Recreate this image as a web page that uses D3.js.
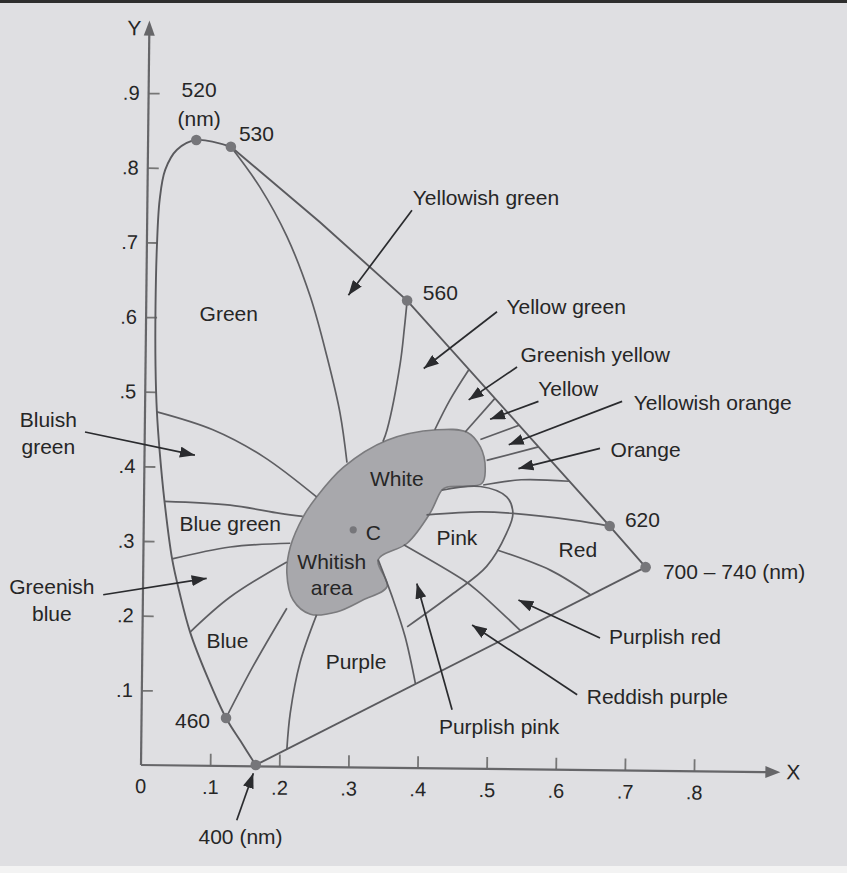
<!DOCTYPE html>
<html>
<head>
<meta charset="utf-8">
<script src="https://cdn.jsdelivr.net/npm/d3@7"></script>
<style>
  html, body { margin: 0; padding: 0; background: #dfdfe2; }
  svg { display: block; }
  text { font-family: "Liberation Sans", Arial, Helvetica, sans-serif; fill: #262626; }
</style>
</head>
<body>
<svg id="chart" width="847" height="873"></svg>
<script>
// chromaticity values (x, y)
var xTicks = [0.1, 0.2, 0.3, 0.4, 0.5, 0.6, 0.7, 0.8];
var yTicks = [0.1, 0.2, 0.3, 0.4, 0.5, 0.6, 0.7, 0.8, 0.9];

// spectral locus, 400 nm round the left side up to 530 nm
var locusCurve = [[0.166,0.000],[0.144,0.032],[0.123,0.063],[0.096,0.118],[0.071,0.178],
  [0.056,0.230],[0.045,0.276],[0.034,0.353],[0.027,0.420],[0.023,0.473],[0.021,0.534],
  [0.021,0.614],[0.023,0.694],[0.027,0.757],[0.035,0.797],[0.052,0.824],[0.080,0.837],[0.130,0.828]];
// 530 -> 560 -> 620 -> 700 nm
var locusEdge = [[0.130,0.828],[0.259,0.727],[0.385,0.622],[0.678,0.320],[0.730,0.265]];
var purpleLine = [[0.730,0.265],[0.166,0.000]];

// the whitish area
var whiteArea = [[0.211,0.257],[0.216,0.292],[0.235,0.333],[0.254,0.359],[0.293,0.399],
  [0.356,0.435],[0.428,0.449],[0.471,0.446],[0.491,0.426],[0.498,0.395],[0.493,0.377],
  [0.442,0.372],[0.435,0.368],[0.418,0.337],[0.385,0.297],[0.343,0.275],[0.356,0.239],
  [0.321,0.221],[0.283,0.205],[0.245,0.202],[0.220,0.221]];

// colour region boundaries
var greenEdge      = [[0.130,0.828],[0.172,0.774],[0.211,0.708],[0.245,0.627],[0.269,0.547],[0.288,0.471],[0.298,0.405]];
var line560        = [[0.385,0.622],[0.381,0.585],[0.375,0.538],[0.356,0.449],[0.350,0.433]];
var ygEdge         = [[0.425,0.449],[0.447,0.489],[0.474,0.529]];
var gyEdge         = [[0.469,0.446],[0.512,0.491]];
var yellowEdge     = [[0.491,0.436],[0.547,0.455]];
var yoEdge         = [[0.500,0.408],[0.575,0.426]];
var orangeEdge     = [[0.495,0.375],[0.550,0.382],[0.619,0.380]];
var line620        = [[0.413,0.335],[0.491,0.339],[0.538,0.337],[0.625,0.328],[0.678,0.320]];
var pinkEdge       = [[0.435,0.368],[0.491,0.373],[0.529,0.359],[0.538,0.337],[0.529,0.311],
                      [0.500,0.266],[0.452,0.230],[0.385,0.185]];
var ppEdge         = [[0.380,0.295],[0.466,0.248],[0.486,0.234],[0.549,0.180]];
var rpEdge         = [[0.515,0.288],[0.592,0.261],[0.650,0.228]];
var purpleRight    = [[0.343,0.275],[0.365,0.221],[0.382,0.172],[0.397,0.109]];
var purpleLeft     = [[0.254,0.201],[0.230,0.137],[0.216,0.070],[0.211,0.021]];
var line460        = [[0.123,0.063],[0.162,0.132],[0.211,0.210]];
var blueEdge       = [[0.071,0.178],[0.129,0.225],[0.211,0.272]];
var gbEdge         = [[0.045,0.276],[0.129,0.292],[0.216,0.297]];
var bgEdge         = [[0.034,0.353],[0.129,0.348],[0.201,0.337],[0.234,0.333]];
var bluishEdge     = [[0.023,0.473],[0.104,0.449],[0.177,0.413],[0.254,0.359]];

var boundaries = [greenEdge, line560, ygEdge, gyEdge, yellowEdge, yoEdge, orangeEdge, line620,
  pinkEdge, ppEdge, rpEdge, purpleRight, purpleLeft, line460, blueEdge, gbEdge, bgEdge, bluishEdge];

// marked wavelengths on the locus
var wavePoints = [[0.080,0.837],[0.130,0.828],[0.385,0.622],[0.678,0.320],[0.730,0.265],[0.123,0.063],[0.166,0.000]];
var illuminantC = [0.307,0.315];

var waveLabels = [
  ["520", 0.084, 0.904, "middle"],
  ["(nm)", 0.084, 0.866, "middle"],
  ["530", 0.167, 0.846, "middle"],
  ["560", 0.433, 0.632, "middle"],
  ["620", 0.700, 0.328, "start"],
  ["700 \u2013 740 (nm)", 0.755, 0.259, "start"],
  ["460", 0.0745, 0.060, "middle"]
];

var regionLabels = [
  ["Green", 0.127, 0.604],
  ["Blue green", 0.129, 0.323],
  ["Blue", 0.125, 0.167],
  ["White", 0.370, 0.384],
  ["Whitish", 0.276, 0.272],
  ["area", 0.276, 0.237],
  ["C", 0.336, 0.311],
  ["Pink", 0.457, 0.305],
  ["Red", 0.632, 0.288],
  ["Purple", 0.311, 0.138]
];

var arrowNotes = [
  { lines: ["Yellowish green"], at: [0.499, 0.760], from: [0.392, 0.743], to: [0.300, 0.629] },
  { lines: ["Yellow green"], at: [0.615, 0.614], from: [0.515, 0.607], to: [0.409, 0.531] },
  { lines: ["Greenish yellow"], at: [0.657, 0.549], from: [0.544, 0.533], to: [0.474, 0.489] },
  { lines: ["Yellow"], at: [0.618, 0.504], from: [0.575, 0.487], to: [0.505, 0.463] },
  { lines: ["Yellowish orange"], at: [0.827, 0.485], from: [0.696, 0.487], to: [0.532, 0.429] },
  { lines: ["Orange"], at: [0.730, 0.422], from: [0.664, 0.424], to: [0.546, 0.397] },
  { lines: ["Purplish red"], at: [0.758, 0.172], from: [0.664, 0.170], to: [0.546, 0.221] },
  { lines: ["Reddish purple"], at: [0.747, 0.0915], from: [0.631, 0.094], to: [0.479, 0.1875] },
  { lines: ["Purplish pink"], at: [0.518, 0.051], from: [0.450, 0.074], to: [0.399, 0.243] },
  { lines: ["Bluish", "green"], at: [-0.134, 0.444], from: [-0.081, 0.446], to: [0.078, 0.415] },
  { lines: ["Greenish", "blue"], at: [-0.129, 0.221], from: [-0.0547, 0.228], to: [0.095, 0.250] },
  { lines: ["400 (nm)"], at: [0.144, -0.096], from: [0.1385, -0.074], to: [0.1625, -0.011] }
];

// ----------
var svg = d3.select("#chart");
var W = 847, H = 873;

var x = d3.scaleLinear().domain([0, 0.8]).range([141, 694]);
var y = d3.scaleLinear().domain([0, 0.9]).range([765, 93]);

// scan borders
svg.append("rect").attr("x", 0).attr("y", 0).attr("width", W).attr("height", 3).attr("fill", "#2e2e2e");
svg.append("rect").attr("x", 0).attr("y", 866).attr("width", W).attr("height", 7).attr("fill", "#f3f3f3");

var defs = svg.append("defs");
defs.append("marker")
  .attr("id", "ah")
  .attr("markerUnits", "userSpaceOnUse")
  .attr("markerWidth", 15).attr("markerHeight", 11)
  .attr("refX", 15).attr("refY", 5.5)
  .attr("orient", "auto")
  .append("path").attr("d", "M0,0L15,5.5L0,11Z").attr("fill", "#2a2b2e");

// axes, slightly turned like the scan
var axes = svg.append("g").attr("transform", "rotate(0.65," + x(0) + "," + y(0) + ")");

var tickFmt = function(d) { return String(d).replace(/^0/, ""); };
var yAxis = d3.axisLeft(y).tickValues(yTicks).tickSizeInner(-11).tickSizeOuter(0).tickPadding(9).tickFormat(tickFmt);
var xAxis = d3.axisBottom(x).tickValues(xTicks).tickSizeInner(-12).tickSizeOuter(0).tickPadding(14).tickFormat(tickFmt);

var gy = axes.append("g").attr("transform", "translate(" + x(0) + ",0)").call(yAxis);
var gx = axes.append("g").attr("transform", "translate(0," + y(0) + ")").call(xAxis);
[gx, gy].forEach(function(g) {
  g.attr("font-size", null).attr("font-family", null);
  g.select(".domain").remove();
  g.selectAll(".tick line").attr("stroke", "#767676").attr("stroke-width", 1.8);
  g.selectAll(".tick text").style("font-size", "20px").attr("fill", "#262626");
});

var yTop = y(0.997), xEnd = x(0.925);
axes.append("line").attr("x1", x(0)).attr("y1", y(0)).attr("x2", x(0)).attr("y2", yTop + 12)
  .attr("stroke", "#666669").attr("stroke-width", 2.2);
axes.append("line").attr("x1", x(0)).attr("y1", y(0)).attr("x2", xEnd - 12).attr("y2", y(0))
  .attr("stroke", "#666669").attr("stroke-width", 2.2);
axes.append("path")
  .attr("d", "M" + x(0) + "," + yTop + "l-5.5,15h11Z").attr("fill", "#666669");
axes.append("path")
  .attr("d", "M" + xEnd + "," + y(0) + "l-15,-6v12Z").attr("fill", "#666669");
axes.append("text").attr("x", x(0) - 15).attr("y", yTop + 15).style("font-size", "21px")
  .attr("text-anchor", "middle").text("Y");
axes.append("text").attr("x", xEnd + 13).attr("y", y(0) + 7).style("font-size", "21px")
  .attr("text-anchor", "middle").text("X");
axes.append("text").attr("x", x(0)).attr("y", y(0) + 14).attr("dy", "0.71em").style("font-size", "20px")
  .attr("text-anchor", "middle").text("0");

// diagram layer
var plot = svg.append("g");
var smooth = d3.line().x(function(d) { return x(d[0]); }).y(function(d) { return y(d[1]); })
  .curve(d3.curveCatmullRom.alpha(0.5));
var straight = d3.line().x(function(d) { return x(d[0]); }).y(function(d) { return y(d[1]); });
var loop = d3.line().x(function(d) { return x(d[0]); }).y(function(d) { return y(d[1]); })
  .curve(d3.curveCatmullRomClosed.alpha(0.5));

plot.append("path").attr("d", loop(whiteArea))
  .attr("fill", "#a8a8ac").attr("stroke", "#7b7b7e").attr("stroke-width", 1.6);

plot.selectAll(".boundary").data(boundaries).enter().append("path")
  .attr("class", "boundary")
  .attr("d", smooth)
  .attr("fill", "none").attr("stroke", "#5e5e62").attr("stroke-width", 1.7);

plot.append("path").attr("d", smooth(locusCurve))
  .attr("fill", "none").attr("stroke", "#5a5a5e").attr("stroke-width", 1.9);
plot.append("path").attr("d", straight(locusEdge))
  .attr("fill", "none").attr("stroke", "#5a5a5e").attr("stroke-width", 1.9);
plot.append("path").attr("d", straight(purpleLine))
  .attr("fill", "none").attr("stroke", "#5a5a5e").attr("stroke-width", 1.9);

plot.selectAll(".wave").data(wavePoints).enter().append("circle")
  .attr("class", "wave")
  .attr("cx", function(d) { return x(d[0]); })
  .attr("cy", function(d) { return y(d[1]); })
  .attr("r", 5.3).attr("fill", "#76767a");
plot.append("circle").attr("cx", x(illuminantC[0])).attr("cy", y(illuminantC[1]))
  .attr("r", 3.6).attr("fill", "#76767a");

// labels
var labels = svg.append("g").style("font-size", "21px");
labels.selectAll(".wl").data(waveLabels).enter().append("text")
  .attr("class", "wl")
  .attr("x", function(d) { return x(d[1]); })
  .attr("y", function(d) { return y(d[2]); })
  .attr("dy", "0.35em")
  .attr("text-anchor", function(d) { return d[3]; })
  .text(function(d) { return d[0]; });

labels.selectAll(".rl").data(regionLabels).enter().append("text")
  .attr("class", "rl")
  .attr("x", function(d) { return x(d[1]); })
  .attr("y", function(d) { return y(d[2]); })
  .attr("dy", "0.35em")
  .attr("text-anchor", "middle")
  .text(function(d) { return d[0]; });

var notes = labels.selectAll(".note").data(arrowNotes).enter().append("g").attr("class", "note");
notes.append("line")
  .attr("x1", function(d) { return x(d.from[0]); })
  .attr("y1", function(d) { return y(d.from[1]); })
  .attr("x2", function(d) { return x(d.to[0]); })
  .attr("y2", function(d) { return y(d.to[1]); })
  .attr("stroke", "#2a2b2e").attr("stroke-width", 1.7)
  .attr("marker-end", "url(#ah)");
notes.append("text")
  .attr("x", function(d) { return x(d.at[0]); })
  .attr("y", function(d) { return y(d.at[1]); })
  .attr("text-anchor", "middle")
  .each(function(d) {
    var t = d3.select(this);
    var n = d.lines.length;
    d.lines.forEach(function(s, i) {
      t.append("tspan")
        .attr("x", x(d.at[0]))
        .attr("dy", i === 0 ? (0.35 - (n - 1) * 0.635) + "em" : "1.27em")
        .text(s);
    });
  });
</script>
</body>
</html>
